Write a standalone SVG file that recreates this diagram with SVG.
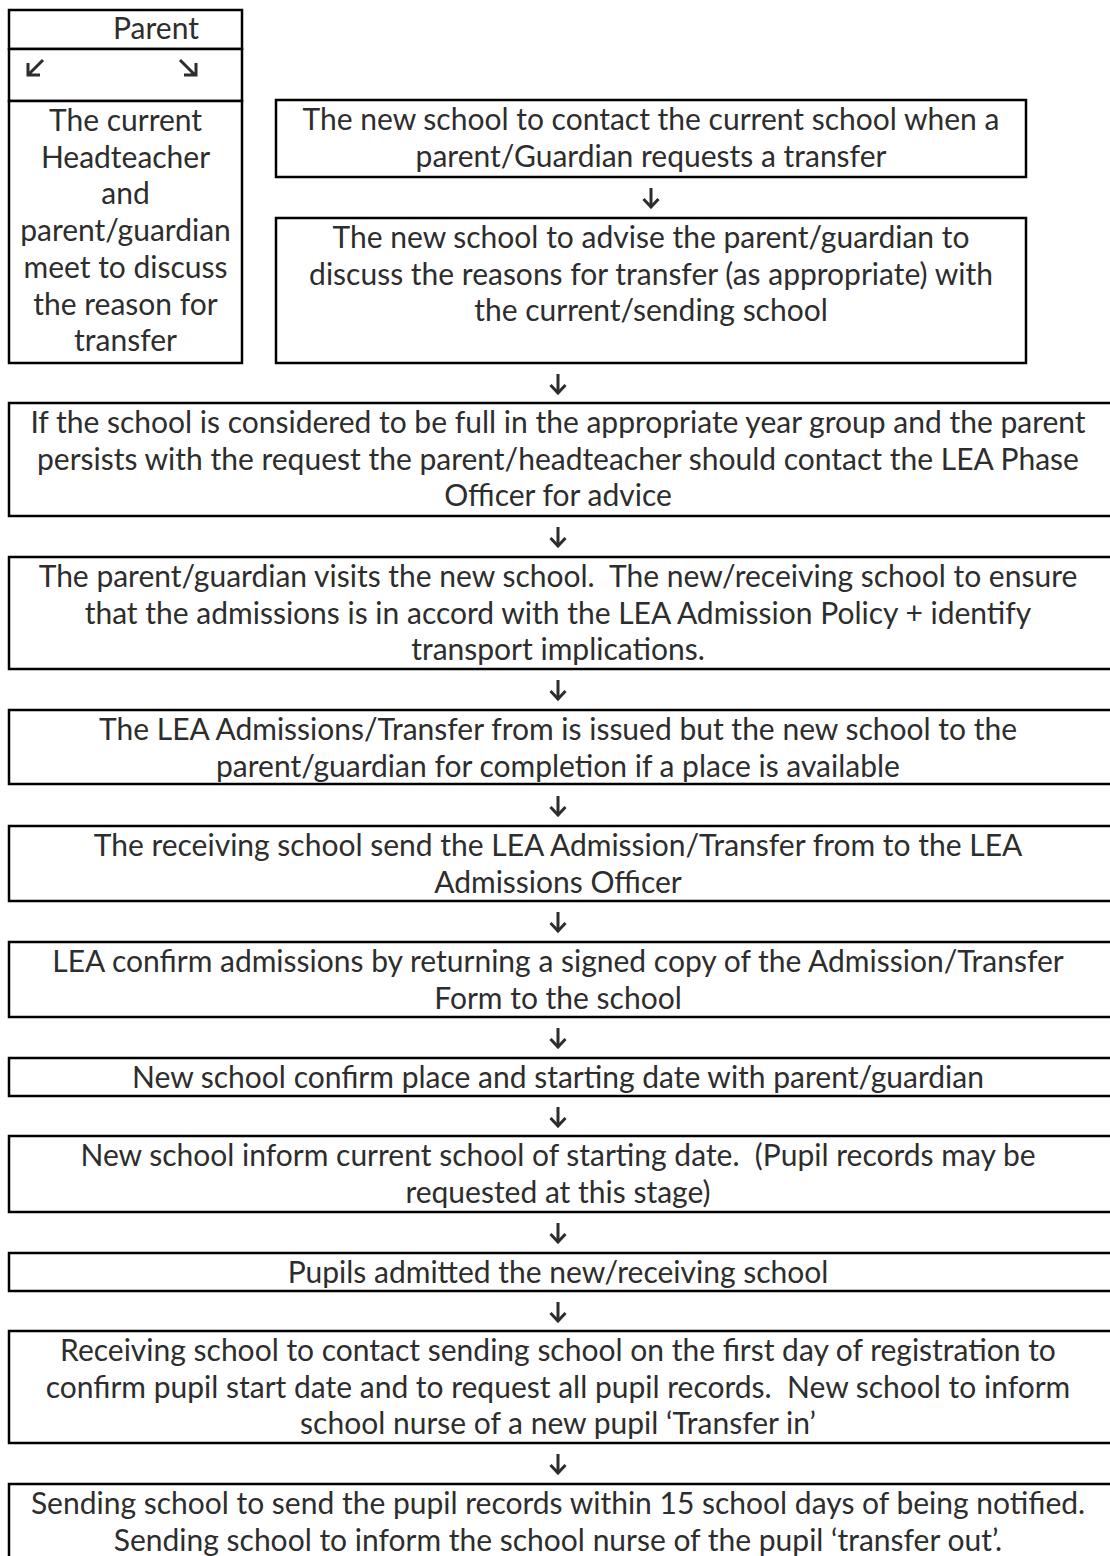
<svg xmlns="http://www.w3.org/2000/svg" width="1110" height="1556" viewBox="0 0 1110 1556">
<defs>
<style>
.box{fill:#ffffff;stroke:#000000;stroke-width:2.5}
.t{font-family:Lato,"Liberation Sans",sans-serif;font-size:30px;fill:#2d2d2d;text-anchor:middle;white-space:pre}
.arr{fill:none;stroke:#2d2d2d;stroke-width:3;stroke-linecap:butt;stroke-linejoin:miter}
</style>
<marker id="head" viewBox="0 0 11 18" refX="9.5" refY="9" markerWidth="11" markerHeight="18" markerUnits="userSpaceOnUse" orient="auto">
<path d="M1.5,1.5 L9.5,9 L1.5,16.5" fill="none" stroke="#2d2d2d" stroke-width="3"/>
</marker>
</defs>
<rect width="1110" height="1556" fill="#ffffff"/>

<g id="parent">
<rect class="box" x="9" y="10" width="233" height="39"/>
<text class="t" x="156" y="39">Parent</text>
</g>
<g id="split">
<rect class="box" x="9" y="49" width="233" height="52"/>
</g>
<g id="meet">
<rect class="box" x="9" y="101" width="233" height="262"/>
<text class="t" x="125.5" y="131">The current</text>
<text class="t" x="125.5" y="167.7">Headteacher</text>
<text class="t" x="125.5" y="204.4">and</text>
<text class="t" x="125.5" y="241.1">parent/guardian</text>
<text class="t" x="125.5" y="277.8">meet to discuss</text>
<text class="t" x="125.5" y="314.5">the reason for</text>
<text class="t" x="125.5" y="351.2">transfer</text>
</g>
<g id="contact">
<rect class="box" x="276" y="100" width="750" height="77"/>
<text class="t" x="651" y="130">The new school to contact the current school when a</text>
<text class="t" x="651" y="166.7">parent/Guardian requests a transfer</text>
</g>
<g id="advise">
<rect class="box" x="276" y="218" width="750" height="145"/>
<text class="t" x="651" y="248">The new school to advise the parent/guardian to</text>
<text class="t" x="651" y="284.7">discuss the reasons for transfer (as appropriate) with</text>
<text class="t" x="651" y="321.4">the current/sending school</text>
</g>
<g id="full">
<rect class="box" x="9" y="403" width="1115" height="113"/>
<text class="t" x="558" y="433">If the school is considered to be full in the appropriate year group and the parent</text>
<text class="t" x="558" y="469.7">persists with the request the parent/headteacher should contact the LEA Phase</text>
<text class="t" x="558" y="506.4">Officer for advice</text>
</g>
<g id="visit">
<rect class="box" x="9" y="557" width="1115" height="112"/>
<text class="t" x="558" y="587">The parent/guardian visits the new school.  The new/receiving school to ensure</text>
<text class="t" x="558" y="623.7">that the admissions is in accord with the LEA Admission Policy + identify</text>
<text class="t" x="558" y="660.4">transport implications.</text>
</g>
<g id="form-issued">
<rect class="box" x="9" y="710" width="1115" height="74"/>
<text class="t" x="558" y="740">The LEA Admissions/Transfer from is issued but the new school to the</text>
<text class="t" x="558" y="776.7">parent/guardian for completion if a place is available</text>
</g>
<g id="form-sent">
<rect class="box" x="9" y="826" width="1115" height="75"/>
<text class="t" x="558" y="856">The receiving school send the LEA Admission/Transfer from to the LEA</text>
<text class="t" x="558" y="892.7">Admissions Officer</text>
</g>
<g id="lea-confirm">
<rect class="box" x="9" y="942" width="1115" height="75"/>
<text class="t" x="558" y="972">LEA confirm admissions by returning a signed copy of the Admission/Transfer</text>
<text class="t" x="558" y="1008.7">Form to the school</text>
</g>
<g id="confirm-place">
<rect class="box" x="9" y="1058" width="1115" height="38"/>
<text class="t" x="558" y="1088">New school confirm place and starting date with parent/guardian</text>
</g>
<g id="inform-current">
<rect class="box" x="9" y="1136" width="1115" height="76"/>
<text class="t" x="558" y="1166">New school inform current school of starting date.  (Pupil records may be</text>
<text class="t" x="558" y="1202.7">requested at this stage)</text>
</g>
<g id="admitted">
<rect class="box" x="9" y="1253" width="1115" height="38"/>
<text class="t" x="558" y="1283">Pupils admitted the new/receiving school</text>
</g>
<g id="records-request">
<rect class="box" x="9" y="1331" width="1115" height="112"/>
<text class="t" x="558" y="1361">Receiving school to contact sending school on the first day of registration to</text>
<text class="t" x="558" y="1397.7">confirm pupil start date and to request all pupil records.  New school to inform</text>
<text class="t" x="558" y="1434.4">school nurse of a new pupil ‘Transfer in’</text>
</g>
<g id="records-send">
<rect class="box" x="9" y="1484" width="1115" height="100"/>
<text class="t" x="558" y="1514">Sending school to send the pupil records within 15 school days of being notified.</text>
<text class="t" x="558" y="1550.7">Sending school to inform the school nurse of the pupil ‘transfer out’.</text>
</g>

<g id="connectors">
<path class="arr" d="M43,60 L29,74 M28,63 L28,75 L40,75"/>
<path class="arr" d="M180,60 L195,75 M196,63 L196,75 L184,75"/>
<line class="arr" x1="651" y1="188" x2="651" y2="207" marker-end="url(#head)"/>
<line class="arr" x1="558" y1="374" x2="558" y2="393" marker-end="url(#head)"/>
<line class="arr" x1="558" y1="527" x2="558" y2="546" marker-end="url(#head)"/>
<line class="arr" x1="558" y1="680" x2="558" y2="699" marker-end="url(#head)"/>
<line class="arr" x1="558" y1="796" x2="558" y2="815" marker-end="url(#head)"/>
<line class="arr" x1="558" y1="912" x2="558" y2="931" marker-end="url(#head)"/>
<line class="arr" x1="558" y1="1028" x2="558" y2="1047" marker-end="url(#head)"/>
<line class="arr" x1="558" y1="1107" x2="558" y2="1126" marker-end="url(#head)"/>
<line class="arr" x1="558" y1="1223" x2="558" y2="1242" marker-end="url(#head)"/>
<line class="arr" x1="558" y1="1302" x2="558" y2="1321" marker-end="url(#head)"/>
<line class="arr" x1="558" y1="1454" x2="558" y2="1473" marker-end="url(#head)"/>
</g>
</svg>
